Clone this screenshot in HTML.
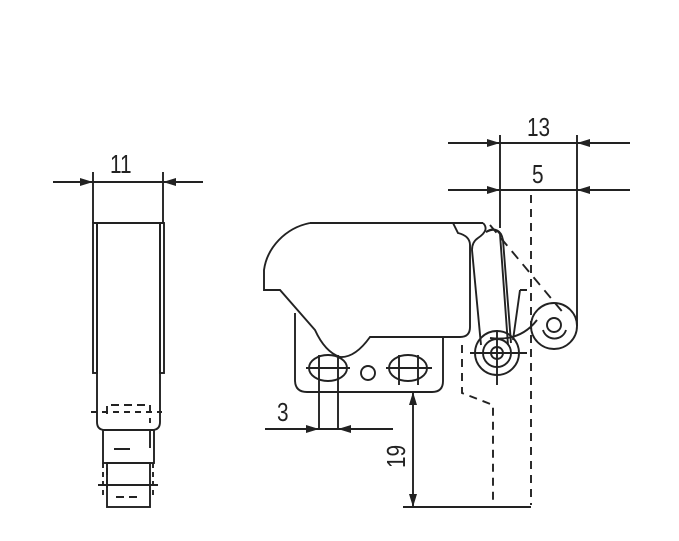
<!DOCTYPE html>
<html><head><style>body{margin:0;background:#fff}svg{display:block}</style></head><body>
<svg width="679" height="541" viewBox="0 0 679 541" xmlns="http://www.w3.org/2000/svg" font-family="Liberation Sans, sans-serif">
<defs><marker id="a" markerWidth="13" markerHeight="8" refX="13" refY="4" orient="auto" markerUnits="userSpaceOnUse"><path d="M0,0 L13,4 L0,8z" fill="#222"/></marker></defs>
<g stroke="#222" stroke-width="1.9" fill="none">
<!-- left view -->
<line x1="93" y1="172" x2="93" y2="223"/><line x1="163" y1="172" x2="163" y2="223"/>
<line x1="53" y1="182" x2="93" y2="182" marker-end="url(#a)"/><line x1="203" y1="182" x2="163" y2="182" marker-end="url(#a)"/>
<line x1="93" y1="182" x2="163" y2="182"/>
<line x1="93" y1="223" x2="164" y2="223"/>
<rect x="93" y="223" width="4" height="150"/><rect x="160" y="223" width="4" height="150"/>
<path d="M97,223 V422 Q97,430 105,430 H152 Q160,430 160,422 V223"/>
<path d="M107,414 V405 H150 V423 M107,488 V468" stroke-dasharray="8,5"/>
<line x1="91" y1="412" x2="162" y2="412" stroke-dasharray="6,5"/>
<path d="M114,449 H130 M150,430 V448" />
<rect x="103" y="430" width="51" height="33"/>
<rect x="107" y="463" width="43" height="44"/>
<line x1="98" y1="485" x2="158" y2="485"/>
<line x1="103" y1="463" x2="103" y2="497" stroke-dasharray="5,4"/><line x1="153" y1="463" x2="153" y2="497" stroke-dasharray="5,4"/>
<line x1="116" y1="497" x2="141" y2="497" stroke-dasharray="8,5"/>
<!-- main body -->
<path d="M310,223 H483 M310,223 C285,228 267,248 264,270 V290 H280 L315,330 Q325,352 340,357 Q355,358 370,337 H460 Q470,337 470,327 V245 Q470,236 458,233 L453,223"/>
<path d="M295,313 V380 Q295,392 307,392 H432 Q443,392 443,381 V337"/>
<ellipse cx="328" cy="368" rx="19" ry="13"/><ellipse cx="408" cy="368" rx="19" ry="13"/>
<circle cx="368" cy="373" r="7"/>
<line x1="306" y1="368" x2="350" y2="368"/><line x1="386" y1="368" x2="432" y2="368"/>
<line x1="399" y1="355" x2="399" y2="385"/><line x1="418" y1="355" x2="418" y2="385"/>
<line x1="319" y1="355" x2="319" y2="430"/><line x1="338" y1="355" x2="338" y2="430"/>
<!-- arm -->
<path d="M483,223 Q490,230 478,238 Q472,242 472,250 L481,345"/>
<path d="M486,232 Q495,226 500,234 L508,345"/>
<path d="M486,232 Q500,225 503,240 L511,343"/>
<path d="M520,290 H527 M520,290 L513,340"/>
<path d="M490,338 Q520,342 537,320"/>
<circle cx="497" cy="353" r="22"/><circle cx="497" cy="353" r="14"/><circle cx="497" cy="353" r="6"/>
<line x1="470" y1="353" x2="527" y2="353"/><line x1="497" y1="330" x2="497" y2="385"/>
<circle cx="554" cy="326" r="23"/><circle cx="554" cy="325" r="7"/>
<path d="M543,330 A12,12 0 0 0 566,330"/>
<path d="M490,225 L565,315" stroke-dasharray="10,7"/>
<!-- top dims -->
<line x1="500" y1="135" x2="500" y2="228"/><line x1="577" y1="135" x2="577" y2="326"/>
<line x1="448" y1="143" x2="500" y2="143" marker-end="url(#a)"/><line x1="630" y1="143" x2="577" y2="143" marker-end="url(#a)"/><line x1="500" y1="143" x2="577" y2="143"/>
<line x1="448" y1="190" x2="500" y2="190" marker-end="url(#a)"/><line x1="630" y1="190" x2="577" y2="190" marker-end="url(#a)"/><line x1="500" y1="190" x2="577" y2="190"/>
<line x1="531" y1="195" x2="531" y2="505" stroke-dasharray="8,6"/>
<path d="M462,345 V393 L493,405 V505" stroke-dasharray="8,6"/>
<!-- bottom dims -->
<line x1="265" y1="429" x2="319" y2="429" marker-end="url(#a)"/><line x1="393" y1="429" x2="338" y2="429" marker-end="url(#a)"/><line x1="319" y1="429" x2="338" y2="429"/>
<line x1="413" y1="450" x2="413" y2="392" marker-end="url(#a)"/><line x1="413" y1="450" x2="413" y2="507" marker-end="url(#a)"/>
<line x1="403" y1="507" x2="531" y2="507"/>
</g>
<g fill="#222" font-size="26">
<text transform="translate(110,173) scale(0.8,1)">11</text>
<text transform="translate(527,136) scale(0.8,1)">13</text>
<text transform="translate(532,183) scale(0.8,1)">5</text>
<text transform="translate(277,421) scale(0.8,1)">3</text>
<text transform="translate(405,468) rotate(-90) scale(0.8,1)">19</text>
</g>
</svg>
</body></html>
